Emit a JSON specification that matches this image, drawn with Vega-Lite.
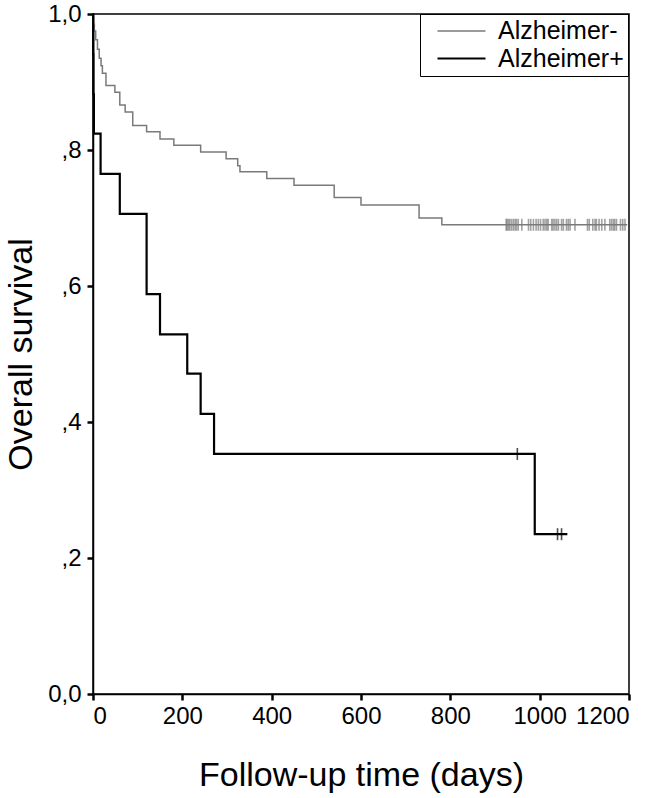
{
  "$schema": "https://vega.github.io/schema/vega-lite/v6.json",
  "autosize": {"type": "none"},
  "padding": {"left": 93, "top": 14, "right": 31, "bottom": 104},
  "width": 536,
  "height": 680,
  "background": "white",
  "config": {
    "view": {"stroke": "#000", "strokeWidth": 1.5},
    "font": "Liberation Sans",
    "axis": {
      "grid": false,
      "domainColor": "#000",
      "domainWidth": 1.5,
      "tickColor": "#000",
      "tickWidth": 2.5,
      "tickSize": 6,
      "labelFont": "Liberation Sans",
      "labelFontSize": 24,
      "labelColor": "#000",
      "titleFont": "Liberation Sans",
      "titleFontSize": 34,
      "titleFontWeight": "normal",
      "titleColor": "#000"
    },
    "legend": {
      "labelFont": "Liberation Sans",
      "labelFontSize": 25,
      "labelColor": "#000"
    }
  },
  "datasets": {
    "curves": [
      {"group": "Alzheimer-", "time": 0, "surv": 1.0},
      {"group": "Alzheimer-", "time": 1, "surv": 0.985},
      {"group": "Alzheimer-", "time": 3, "surv": 0.975},
      {"group": "Alzheimer-", "time": 6, "surv": 0.962},
      {"group": "Alzheimer-", "time": 10, "surv": 0.948},
      {"group": "Alzheimer-", "time": 14, "surv": 0.935},
      {"group": "Alzheimer-", "time": 18, "surv": 0.924},
      {"group": "Alzheimer-", "time": 21, "surv": 0.913},
      {"group": "Alzheimer-", "time": 29, "surv": 0.895},
      {"group": "Alzheimer-", "time": 49, "surv": 0.885},
      {"group": "Alzheimer-", "time": 60, "surv": 0.866},
      {"group": "Alzheimer-", "time": 72, "surv": 0.856},
      {"group": "Alzheimer-", "time": 89, "surv": 0.836},
      {"group": "Alzheimer-", "time": 120, "surv": 0.827},
      {"group": "Alzheimer-", "time": 150, "surv": 0.816},
      {"group": "Alzheimer-", "time": 181, "surv": 0.807},
      {"group": "Alzheimer-", "time": 241, "surv": 0.797},
      {"group": "Alzheimer-", "time": 298, "surv": 0.787},
      {"group": "Alzheimer-", "time": 324, "surv": 0.777},
      {"group": "Alzheimer-", "time": 329, "surv": 0.768},
      {"group": "Alzheimer-", "time": 389, "surv": 0.758},
      {"group": "Alzheimer-", "time": 450, "surv": 0.748},
      {"group": "Alzheimer-", "time": 540, "surv": 0.730},
      {"group": "Alzheimer-", "time": 600, "surv": 0.719},
      {"group": "Alzheimer-", "time": 730, "surv": 0.700},
      {"group": "Alzheimer-", "time": 781, "surv": 0.690},
      {"group": "Alzheimer-", "time": 1196, "surv": 0.690},
      {"group": "Alzheimer+", "time": 0, "surv": 1.0},
      {"group": "Alzheimer+", "time": 0.5, "surv": 0.941},
      {"group": "Alzheimer+", "time": 1, "surv": 0.882},
      {"group": "Alzheimer+", "time": 2, "surv": 0.824},
      {"group": "Alzheimer+", "time": 17, "surv": 0.765},
      {"group": "Alzheimer+", "time": 60, "surv": 0.706},
      {"group": "Alzheimer+", "time": 120, "surv": 0.588},
      {"group": "Alzheimer+", "time": 150, "surv": 0.529},
      {"group": "Alzheimer+", "time": 211, "surv": 0.471},
      {"group": "Alzheimer+", "time": 241, "surv": 0.412},
      {"group": "Alzheimer+", "time": 271, "surv": 0.353},
      {"group": "Alzheimer+", "time": 989, "surv": 0.235},
      {"group": "Alzheimer+", "time": 1062, "surv": 0.235}
    ],
    "censored": [
      {"group": "Alzheimer-", "time": 925, "surv": 0.690},
      {"group": "Alzheimer-", "time": 927, "surv": 0.690},
      {"group": "Alzheimer-", "time": 930, "surv": 0.690},
      {"group": "Alzheimer-", "time": 933, "surv": 0.690},
      {"group": "Alzheimer-", "time": 937, "surv": 0.690},
      {"group": "Alzheimer-", "time": 941, "surv": 0.690},
      {"group": "Alzheimer-", "time": 945, "surv": 0.690},
      {"group": "Alzheimer-", "time": 948, "surv": 0.690},
      {"group": "Alzheimer-", "time": 952, "surv": 0.690},
      {"group": "Alzheimer-", "time": 960, "surv": 0.690},
      {"group": "Alzheimer-", "time": 975, "surv": 0.690},
      {"group": "Alzheimer-", "time": 980, "surv": 0.690},
      {"group": "Alzheimer-", "time": 986, "surv": 0.690},
      {"group": "Alzheimer-", "time": 992, "surv": 0.690},
      {"group": "Alzheimer-", "time": 997, "surv": 0.690},
      {"group": "Alzheimer-", "time": 1002, "surv": 0.690},
      {"group": "Alzheimer-", "time": 1008, "surv": 0.690},
      {"group": "Alzheimer-", "time": 1012, "surv": 0.690},
      {"group": "Alzheimer-", "time": 1016, "surv": 0.690},
      {"group": "Alzheimer-", "time": 1019, "surv": 0.690},
      {"group": "Alzheimer-", "time": 1027, "surv": 0.690},
      {"group": "Alzheimer-", "time": 1030, "surv": 0.690},
      {"group": "Alzheimer-", "time": 1034, "surv": 0.690},
      {"group": "Alzheimer-", "time": 1038, "surv": 0.690},
      {"group": "Alzheimer-", "time": 1042, "surv": 0.690},
      {"group": "Alzheimer-", "time": 1049, "surv": 0.690},
      {"group": "Alzheimer-", "time": 1053, "surv": 0.690},
      {"group": "Alzheimer-", "time": 1060, "surv": 0.690},
      {"group": "Alzheimer-", "time": 1064, "surv": 0.690},
      {"group": "Alzheimer-", "time": 1068, "surv": 0.690},
      {"group": "Alzheimer-", "time": 1079, "surv": 0.690},
      {"group": "Alzheimer-", "time": 1107, "surv": 0.690},
      {"group": "Alzheimer-", "time": 1111, "surv": 0.690},
      {"group": "Alzheimer-", "time": 1119, "surv": 0.690},
      {"group": "Alzheimer-", "time": 1124, "surv": 0.690},
      {"group": "Alzheimer-", "time": 1127, "surv": 0.690},
      {"group": "Alzheimer-", "time": 1133, "surv": 0.690},
      {"group": "Alzheimer-", "time": 1139, "surv": 0.690},
      {"group": "Alzheimer-", "time": 1146, "surv": 0.690},
      {"group": "Alzheimer-", "time": 1157, "surv": 0.690},
      {"group": "Alzheimer-", "time": 1161, "surv": 0.690},
      {"group": "Alzheimer-", "time": 1165, "surv": 0.690},
      {"group": "Alzheimer-", "time": 1168, "surv": 0.690},
      {"group": "Alzheimer-", "time": 1172, "surv": 0.690},
      {"group": "Alzheimer-", "time": 1181, "surv": 0.690},
      {"group": "Alzheimer-", "time": 1186, "surv": 0.690},
      {"group": "Alzheimer-", "time": 1191, "surv": 0.690},
      {"group": "Alzheimer+", "time": 950, "surv": 0.353},
      {"group": "Alzheimer+", "time": 1040, "surv": 0.235},
      {"group": "Alzheimer+", "time": 1049, "surv": 0.235}
    ]
  },
  "layer": [
    {
      "data": {"name": "curves"},
      "mark": {"type": "line", "interpolate": "step-after"},
      "encoding": {
        "x": {
          "field": "time", "type": "quantitative",
          "scale": {"domain": [0, 1200], "nice": false, "zero": false},
          "axis": {"values": [0, 200, 400, 600, 800, 1000, 1200], "format": "d", "title": "Follow-up time (days)", "labelPadding": 4, "titlePadding": 30}
        },
        "y": {
          "field": "surv", "type": "quantitative",
          "scale": {"domain": [0, 1], "nice": false},
          "axis": {
            "values": [0, 0.2, 0.4, 0.6, 0.8, 1.0],
            "title": "Overall survival",
            "labelPadding": 6,
            "titlePadding": 9,
            "labelExpr": "datum.value == 0 ? '0,0' : datum.value == 1 ? '1,0' : replace(format(datum.value, '.1f'), '0.', ',')"
          }
        },
        "color": {
          "field": "group", "type": "nominal",
          "scale": {"domain": ["Alzheimer-", "Alzheimer+"], "range": ["#7a7a7a", "#000000"]},
          "legend": {
            "title": null,
            "orient": "none",
            "legendX": 327,
            "legendY": 0,
            "strokeColor": "#000",
            "padding": 4,
            "symbolOffset": 12,
            "symbolType": "M-1,0H3",
            "symbolSize": 576,
            "symbolStrokeWidth": 2,
            "labelOffset": 35,
            "rowPadding": 1
          }
        },
        "strokeWidth": {
          "field": "group", "type": "nominal",
          "scale": {"domain": ["Alzheimer-", "Alzheimer+"], "range": [1.5, 2.2]},
          "legend": null
        }
      }
    },
    {
      "data": {"name": "censored"},
      "mark": {"type": "tick", "orient": "vertical", "size": 12, "thickness": 1.6},
      "encoding": {
        "x": {"field": "time", "type": "quantitative"},
        "y": {"field": "surv", "type": "quantitative"},
        "color": {"field": "group", "type": "nominal", "legend": null}
      }
    }
  ]
}
